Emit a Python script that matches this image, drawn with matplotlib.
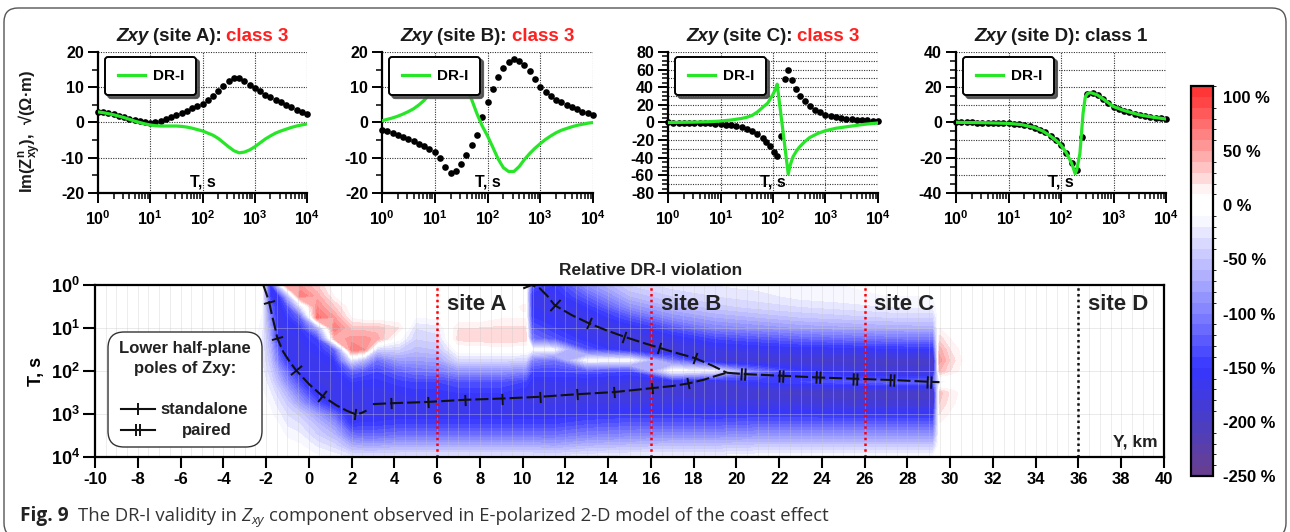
import numpy as np
import matplotlib
matplotlib.use("Agg")
import matplotlib.pyplot as plt
from matplotlib.colors import ListedColormap, BoundaryNorm, to_rgb
from matplotlib.patches import FancyBboxPatch
from matplotlib.path import Path
from matplotlib.lines import Line2D
from matplotlib.ticker import MultipleLocator, LogLocator, NullFormatter

plt.rcParams.update({
    "font.family": ["Liberation Sans", "DejaVu Sans"],
    "font.weight": "bold",
    "axes.unicode_minus": False,
    "mathtext.fontset": "custom",
    "mathtext.rm": "Liberation Sans:bold",
    "mathtext.bf": "Liberation Sans:bold",
    "mathtext.it": "Liberation Sans:bold:italic",
})

# ======================= DATA: top panels =======================
# log10(T) sampling of the black (Im Z) series, 0.1 step
logT_grid = np.round(np.arange(41) * 0.1, 1)

A_black = [3.1, 2.9, 2.6, 2.3, 1.9, 1.5, 1.1, 0.7, 0.3, 0.0, -0.1, 0.1, 0.5, 0.9, 1.5, 2.1, 2.7,
           3.3, 4.0, 4.6, 5.3, 6.3, 7.6, 8.9, 10.4, 11.8, 12.6, 12.5, 11.7, 10.7, 9.7, 8.8, 7.9,
           7.1, 6.4, 5.7, 5.0, 4.3, 3.6, 2.9, 2.3]
A_green = [3.0, 2.8, 2.5, 2.2, 1.8, 1.4, 0.9, 0.4, 0.0, -0.4, -0.7, -0.9, -1.0, -1.0, -1.0, -1.0,
           -1.1, -1.3, -1.6, -2.0, -2.4, -3.0, -3.6, -4.5, -5.7, -6.9, -8.0, -8.6, -8.4, -7.8,
           -6.9, -5.8, -4.7, -3.8, -3.0, -2.4, -1.9, -1.4, -1.0, -0.7, -0.4]

B_black = [-2.1, -2.5, -3.0, -3.5, -4.0, -4.6, -5.3, -6.0, -6.8, -7.6, -8.5, -10.0, -12.5, -14.3,
           -13.8, -11.8, -9.3, -6.4, -3.5, 1.5, 5.8, 9.6, 13.0, 15.6, 17.3, 17.9, 17.5, 16.4, 14.7,
           12.3, 10.0, 8.6, 7.4, 6.5, 5.7, 5.0, 4.3, 3.7, 3.1, 2.6, 2.1]
B_green = [0.5, 0.9, 1.3, 1.8, 2.4, 3.1, 3.9, 5.0, 6.3, 8.0, 10.0, 12.0, 13.5, 14.0, 13.5, 12.0,
           9.5, 6.5, 2.5, -1.0, -3.8, -7.0, -10.3, -12.8, -13.9, -13.9, -12.5, -10.5, -8.8, -7.3,
           -6.0, -4.8, -3.8, -2.9, -2.2, -1.7, -1.2, -0.8, -0.5, -0.2, 0.0]

C_black_logT = [0.0, 0.1, 0.2, 0.3, 0.4, 0.5, 0.6, 0.7, 0.8, 0.9, 1.0, 1.1, 1.2, 1.3, 1.4, 1.5,
                1.6, 1.7, 1.8, 1.87, 1.94, 2.01, 2.08, 2.15, 2.22, 2.29, 2.36, 2.43, 2.51, 2.6,
                2.7, 2.8, 2.9, 3.0, 3.1, 3.2, 3.3, 3.4, 3.5, 3.6, 3.7, 3.8, 3.9, 4.0]
C_black = [0.0, -0.1, -0.1, -0.2, -0.3, -0.4, -0.6, -0.8, -1.1, -1.4, -1.8, -2.3, -3.0, -4.0,
           -5.5, -7.5, -10.0, -13.5, -18.0, -22.0, -27.0, -33.0, -38.0, -15.0, 49.0, 60.0, 48.0,
           38.0, 30.0, 24.0, 18.5, 14.5, 11.5, 9.0, 7.2, 5.9, 4.9, 4.1, 3.5, 3.0, 2.7, 2.4, 2.2, 2.0]
C_green_logT = [0.0, 0.25, 0.5, 0.75, 1.0, 1.2, 1.4, 1.5, 1.6, 1.7, 1.8, 1.9, 2.0, 2.05, 2.08,
                2.15, 2.22, 2.29, 2.33, 2.38, 2.45, 2.51, 2.6, 2.7, 2.85, 3.0, 3.2, 3.5, 3.75, 4.0]
C_green = [0.0, 0.2, 0.4, 0.8, 1.6, 2.8, 4.6, 5.9, 8.0, 11.8, 17.0, 22.0, 32.0, 38.0, 43.5,
           9.5, -24.5, -58.5, -48.0, -39.0, -32.0, -27.5, -22.0, -17.0, -12.5, -9.3, -6.5, -4.0,
           -2.0, -0.5]

D_black = [0.1, 0.1, 0.0, 0.0, -0.1, -0.1, -0.2, -0.3, -0.3, -0.4, -0.5, -0.7, -1.0, -1.5, -2.1,
           -2.9, -4.0, -5.6, -7.7, -10.0, -12.8, -17.2, -22.9, -27.0, -8.0, 16.3, 16.8, 15.6,
           13.4, 11.0, 9.0, 7.8, 6.8, 5.8, 5.0, 4.3, 3.7, 3.2, 2.8, 2.4, 2.0]
D_green_logT = [0.0, 0.25, 0.5, 0.75, 1.0, 1.25, 1.5, 1.65, 1.8, 1.9, 2.0, 2.1, 2.2, 2.27, 2.3,
                2.36, 2.42, 2.46, 2.5, 2.56, 2.69, 2.81, 3.0, 3.2, 3.5, 3.75, 4.0]
D_green = [0.1, 0.0, -0.1, -0.3, -0.5, -1.2, -2.9, -4.8, -7.7, -10.0, -12.8, -17.2, -22.9, -29.0,
           -27.0, -17.6, 5.2, 14.0, 16.3, 17.0, 15.7, 13.2, 9.0, 6.8, 4.3, 3.0, 2.0]

site_labels = ["A", "B", "C", "D"]
site_classes = ["class 3", "class 3", "class 3", "class 1"]
panel_ylims = [20, 20, 80, 40]
panel_major = [10, 10, 20, 20]
panel_minor = [5, 5, 5, 5]
panel_grid = [10, 10, 10, 10]

# ======================= DATA: bottom map =======================
map_logT = [0.0, 0.25, 0.5, 0.75, 1.0, 1.25, 1.5, 1.75, 2.0, 2.25, 2.5, 2.75, 3.0, 3.25, 3.5, 3.75, 4.0]
map_Y = [-10, -3.2, -2.6, -2.2, -1.8, -1.4, -1.0, -0.4, 0.4, 1.2, 2.0, 2.6, 3.2, 4.2, 5.0, 6.0,
         7.0, 8.0, 9.0, 10.0, 10.15, 10.45, 11.5, 13.0, 15.0, 17.0, 19.0, 21.0, 23.0, 25.0, 27.0,
         28.5, 29.2, 29.5, 30.0, 30.8, 40.0]
# relative DR-I violation (%) : one profile (vs map_logT) per map_Y column
map_columns = [
    [0] * 17,
    [0] * 17,
    [0, 0, 0, 0, 0, 0, 0, -3, -6, -8, -8, -6, -4, -2, 0, 0, 0],
    [-5, -5, -8, -12, -18, -20, -20, -20, -15, -10, -8, -5, -3, 0, 0, 0, 0],
    [-150, -150, -120, -100, -80, -70, -60, -50, -40, -30, -20, -12, -8, -4, 0, 0, 0],
    [-30, -150, -165, -170, -170, -165, -130, -110, -80, -60, -40, -28, -18, -10, -5, -2, 0],
    [60, -60, -130, -150, -160, -170, -170, -150, -120, -95, -65, -45, -32, -22, -12, -5, 0],
    [50, 70, -30, -120, -150, -160, -165, -170, -165, -140, -110, -80, -45, -30, -18, -8, 0],
    [30, 45, 60, 75, -70, -140, -155, -165, -170, -170, -165, -130, -80, -55, -40, -22, -8],
    [0, 8, 30, 50, 70, 40, -120, -150, -160, -170, -170, -165, -120, -85, -60, -35, -12],
    [0, 0, 0, 8, 35, 55, 70, -30, -120, -150, -160, -170, -170, -150, -110, -65, -25],
    [0, 0, 0, 0, 35, 55, 60, -60, -130, -155, -165, -170, -165, -145, -115, -70, -25],
    [0, 0, 0, 0, 35, 45, -40, -110, -140, -155, -165, -170, -165, -145, -115, -70, -25],
    [0, 0, 0, 0, 20, -5, -40, -80, -120, -145, -160, -170, -160, -140, -110, -65, -25],
    [0, 0, 0, -10, -30, -40, -55, -80, -110, -140, -155, -165, -160, -140, -110, -65, -25],
    [0, 0, 0, -8, -25, -35, -50, -75, -105, -140, -155, -165, -160, -140, -110, -65, -25],
    [0, 0, 0, 0, 20, 25, -2, -35, -85, -130, -150, -165, -160, -140, -110, -65, -25],
    [0, 0, 0, 0, 20, 28, 0, -35, -85, -130, -150, -165, -160, -140, -110, -65, -25],
    [0, 0, 0, 8, 22, 30, 2, -35, -85, -130, -150, -165, -160, -140, -110, -65, -25],
    [0, 0, 12, 8, 22, 28, 0, -40, -95, -140, -160, -170, -160, -140, -110, -65, -25],
    [0, 0, 12, 8, 22, 28, 0, -40, -95, -140, -160, -170, -160, -140, -110, -65, -25],
    [-130, -160, -160, -150, -130, -110, -10, -100, -140, -160, -170, -170, -160, -140, -110, -65, -25],
    [-150, -165, -170, -160, -150, -130, -15, -110, -140, -160, -175, -170, -160, -140, -110, -70, -25],
    [-90, -120, -150, -170, -175, -160, -130, -10, -130, -165, -180, -170, -155, -130, -100, -60, -20],
    [-40, -60, -90, -130, -165, -180, -170, -10, -140, -170, -185, -170, -150, -125, -95, -55, -15],
    [-25, -40, -60, -90, -130, -165, -185, -110, -5, -170, -185, -170, -150, -125, -90, -50, -15],
    [-20, -30, -45, -70, -100, -140, -170, -185, -20, -180, -190, -175, -155, -125, -90, -50, -15],
    [-15, -25, -35, -60, -90, -130, -165, -185, -110, -150, -190, -175, -150, -120, -85, -45, -10],
    [-10, -15, -30, -50, -80, -120, -160, -190, -150, -140, -195, -180, -150, -120, -85, -45, -10],
    [-10, -12, -25, -45, -75, -115, -160, -195, -170, -130, -200, -185, -155, -120, -85, -45, -10],
    [-8, -10, -20, -40, -70, -110, -155, -195, -185, -120, -200, -185, -155, -120, -85, -45, -8],
    [-5, -10, -18, -38, -68, -108, -155, -195, -185, -120, -200, -185, -155, -120, -85, -45, -8],
    [-5, -10, -18, -38, -68, -108, -155, -195, -185, -120, -200, -185, -155, -120, -85, -45, -8],
    [0, 0, 0, 0, 10, 25, 45, 55, 40, -20, 35, 30, 20, 8, 0, 0, 0],
    [0, 0, 0, 0, 0, 10, 20, 28, 20, -10, 18, 14, 8, 0, 0, 0, 0],
    [0] * 17,
    [0] * 17,
]

# pole trajectories (Y km, log10 T)
stand1_Y = [-2.13, -2.0, -1.86, -1.7, -1.55, -1.47, -1.2, -0.9, -0.6, 0.0, 0.63, 1.3, 1.8, 2.16, 2.45, 2.7]
stand1_T = [0.0, 0.18, 0.39, 0.75, 1.05, 1.24, 1.55, 1.78, 1.98, 2.3, 2.58, 2.8, 2.93, 3.0, 2.98, 2.92]
stand1_ticks = [-1.86, -1.47, -0.6, 0.63, 2.16]
stand2_Y = [3.0, 3.84, 5.56, 7.3, 9.05, 10.8, 12.56, 14.29, 16.04, 17.0, 17.75, 18.5, 19.0, 19.55]
stand2_T = [2.77, 2.75, 2.72, 2.67, 2.64, 2.6, 2.54, 2.49, 2.4, 2.35, 2.29, 2.2, 2.12, 2.04]
stand2_ticks = [3.84, 5.56, 7.3, 9.05, 10.8, 12.56, 14.29, 16.04, 17.75]
stand3_Y = [10.03, 10.42, 10.81, 11.15, 11.5, 12.3, 13.1, 13.9, 14.74, 15.6, 16.4, 17.2, 18.06, 18.9, 19.55]
stand3_T = [0.08, 0.0, 0.08, 0.25, 0.47, 0.7, 0.89, 1.05, 1.2, 1.34, 1.46, 1.58, 1.7, 1.88, 2.04]
stand3_ticks = [11.5, 13.1, 14.74, 16.4, 18.06]
paired_Y = [19.55, 20.3, 22.09, 23.8, 25.55, 27.3, 29.03, 29.5]
paired_T = [2.04, 2.07, 2.11, 2.15, 2.18, 2.21, 2.25, 2.26]
paired_ticks = [20.3, 22.09, 23.8, 25.55, 27.3, 29.03]

sites_Y = [6, 16, 26, 36]
sites_name = ["site A", "site B", "site C", "site D"]

cbar_ticks = [100, 50, 0, -50, -100, -150, -200, -250]
cbar_stops = [-250, -200, -150, -100, -50, -20, -10, 10, 20, 50, 100, 110]
cbar_stop_colors = ["#6a3f8c", "#4a3ec4", "#3535ff", "#8080ff", "#c4c4ff", "#eeeeff", "#ffffff",
                    "#ffffff", "#ffe6e6", "#ffa0a0", "#ff3b3b", "#ff3030"]

# ======================= FIGURE =======================
W, H = 1290, 532
fig = plt.figure(figsize=(W / 100, H / 100), dpi=100)


def fx(x):
    return x / W


def fy(y):
    return 1 - y / H


renderer = fig.canvas.get_renderer()


def rich_text(xc, ybase, parts, ha="center"):
    """parts: list of (text, props, gap_px_after, dy_px)"""
    arts, widths = [], []
    for s, props, gap, dy in parts:
        t = fig.text(0, fy(ybase + dy), s, va="baseline", ha="left", **props)
        w = t.get_window_extent(renderer).width
        arts.append(t)
        widths.append(w + gap)
    total = sum(widths)
    x0 = xc - total / 2 if ha == "center" else xc
    for t, w in zip(arts, widths):
        t.set_x(fx(x0))
        x0 += w


# outer rounded frame
fig.add_artist(FancyBboxPatch((0.04, -0.05), 12.82, 5.29,
                              boxstyle="round,pad=0,rounding_size=0.14",
                              transform=fig.dpi_scale_trans, fill=False,
                              ec="#555555", lw=1.0, zorder=0))

GREEN = "#27e627"
panel_left = [98, 382, 668, 956]
panel_w = [209, 211, 210, 210]
black_sets = [(logT_grid, A_black), (logT_grid, B_black), (C_black_logT, C_black), (logT_grid, D_black)]
green_sets = [(logT_grid, A_green), (logT_grid, B_green), (C_green_logT, C_green), (D_green_logT, D_green)]

for i in range(4):
    ax = fig.add_axes([fx(panel_left[i]), fy(193), panel_w[i] / W, 141 / H])
    lim = panel_ylims[i]
    ax.set_xscale("log")
    ax.set_xlim(1, 1e4)
    ax.set_ylim(-lim, lim)
    for v in np.arange(-lim + panel_grid[i], lim + 0.1, panel_grid[i]):
        ax.axhline(v, color="#333333", lw=0.8, ls=(0, (1, 1.2)), zorder=0.5)
    for k in range(1, 5):
        ax.axvline(10.0 ** k, color="#333333", lw=0.8, ls=(0, (1, 1.2)), zorder=0.5)
    bl, bv = black_sets[i]
    ax.plot(10.0 ** np.asarray(bl), bv, "o", color="k", ms=4.8, mew=0, zorder=2, clip_on=False)
    gl, gv = green_sets[i]
    ax.plot(10.0 ** np.asarray(gl), gv, "-", color=GREEN, lw=2.3, zorder=3, solid_capstyle="round")
    for s in ["top", "right"]:
        ax.spines[s].set_visible(False)
    for s in ["left", "bottom"]:
        ax.spines[s].set_linewidth(1.6)
    ax.yaxis.set_major_locator(MultipleLocator(panel_major[i]))
    ax.yaxis.set_minor_locator(MultipleLocator(panel_minor[i]))
    ax.xaxis.set_minor_locator(LogLocator(base=10, subs=np.arange(2, 10), numticks=10))
    ax.xaxis.set_minor_formatter(NullFormatter())
    ax.set_xticks([1, 10, 100, 1000, 10000])
    ax.set_xticklabels([r"$10^{0}$", r"$10^{1}$", r"$10^{2}$", r"$10^{3}$", r"$10^{4}$"])
    ax.tick_params(axis="both", which="major", direction="out", length=7, width=1.4,
                   labelsize=11.5, pad=3)
    ax.tick_params(axis="both", which="minor", direction="out", length=4, width=1.1)
    ax.tick_params(axis="x", which="major", pad=5)
    ax.text(0.5, 0.075, "T, s", transform=ax.transAxes, ha="center", va="center",
            fontsize=11.5, weight="bold", zorder=4)
    leg = ax.legend([Line2D([], [], color=GREEN, lw=2.3)], ["DR-I"], loc="upper left",
                    bbox_to_anchor=(0.035, 0.965), borderaxespad=0, fancybox=True,
                    shadow={"color": "0.3", "alpha": 0.9}, framealpha=1, edgecolor="k",
                    prop=dict(weight="bold", size=11), handlelength=1.8, borderpad=0.8,
                    handletextpad=0.5)
    leg.get_frame().set_linewidth(1.4)
    leg.set_zorder(5)
    xc = panel_left[i] + panel_w[i] / 2
    red = "#ff2020" if site_classes[i] != "class 1" else "#1a1a1a"
    rich_text(xc, 41, [
        ("Zxy", dict(fontsize=13.5, weight="bold", style="italic", color="#1a1a1a"), 4, 0),
        ("(site %s):" % site_labels[i], dict(fontsize=13.5, weight="bold", color="#1a1a1a"), 5, 0),
        (site_classes[i], dict(fontsize=13.5, weight="bold", color=red), 0, 0),
    ])

fig.text(fx(30), fy(131), "Im(Z$^{\\mathrm{n}}_{\\mathrm{xy}}$),  √(Ω·m)", rotation=90,
         ha="center", va="center", fontsize=12, weight="bold", color="#1a1a1a")

# ---------------- bottom map ----------------
axb = fig.add_axes([fx(95), fy(457), 1069 / W, 172 / H])
levels = np.arange(-250, 111, 10)
mids = levels[:-1] + 5
stop_rgb = np.array([to_rgb(c) for c in cbar_stop_colors])
band_cols = np.column_stack([np.interp(mids, cbar_stops, stop_rgb[:, k]) for k in range(3)])
cmap = ListedColormap(band_cols)
norm = BoundaryNorm(levels, cmap.N)
Z = np.array(map_columns, dtype=float).T
cs = axb.contourf(map_Y, map_logT, Z, levels=levels, cmap=cmap, norm=norm, zorder=1)
axb.set_xlim(-10, 40)
axb.set_ylim(4, 0)
axb.vlines(np.arange(-9.5, 40, 0.5), 0, 4, color="#c8c8c8", lw=0.5, alpha=0.45, zorder=1.5)
axb.hlines([1, 2, 3], -10, 40, color="#c8c8c8", lw=0.6, alpha=0.45, zorder=1.5)

for sY, nm in zip(sites_Y, sites_name):
    col = "red" if sY < 30 else "#111111"
    axb.axvline(sY, color=col, lw=1.8, ls=(0, (1, 1.3)), zorder=3)
    axb.text(sY + 0.45, 0.45, nm, fontsize=16, weight="bold", color="#222222",
             ha="left", va="center", zorder=4)
axb.text(39.7, 3.65, "Y, km", fontsize=12.5, weight="bold", ha="right", va="center", color="#222222")

dash = (0, (6.3, 1.9))
for Ys, Ts in [(stand1_Y, stand1_T), (stand2_Y, stand2_T), (stand3_Y, stand3_T), (paired_Y, paired_T)]:
    axb.plot(Ys, Ts, color="#111111", lw=1.5, ls=dash, zorder=5)


def tick_path(angle, double=False):
    a = np.deg2rad(angle)
    d = np.array([np.cos(a), np.sin(a)])
    n = np.array([-np.sin(a), np.cos(a)])
    offs = [-0.3, 0.3] if double else [0.0]
    verts, codes = [], []
    for o in offs:
        verts += [tuple(o * d - n), tuple(o * d + n)]
        codes += [Path.MOVETO, Path.LINETO]
    return Path(verts, codes)


def add_ticks(Ys, Ts, ticks, double=False):
    Ys = np.asarray(Ys)
    Ts = np.asarray(Ts)
    for ty in ticks:
        tt = np.interp(ty, Ys, Ts)
        p1 = axb.transData.transform((ty - 0.08, np.interp(ty - 0.08, Ys, Ts)))
        p2 = axb.transData.transform((ty + 0.08, np.interp(ty + 0.08, Ys, Ts)))
        ang = np.degrees(np.arctan2(p2[1] - p1[1], p2[0] - p1[0]))
        axb.plot([ty], [tt], ls="none", marker=tick_path(ang, double), ms=9 if double else 8,
                 mew=1.4, color="#111111", zorder=6)


add_ticks(stand1_Y, stand1_T, stand1_ticks)
add_ticks(stand2_Y, stand2_T, stand2_ticks)
add_ticks(stand3_Y, stand3_T, stand3_ticks)
add_ticks(paired_Y, paired_T, paired_ticks, double=True)

for s in axb.spines.values():
    s.set_linewidth(1.6)
    s.set_zorder(7)
axb.set_xticks(np.arange(-10, 41, 2))
axb.set_xticklabels([str(v) for v in range(-10, 41, 2)])
axb.set_yticks([0, 1, 2, 3, 4])
axb.set_yticklabels([r"$10^{%d}$" % k for k in range(5)])
axb.tick_params(axis="x", direction="out", length=8, width=1.5, labelsize=12, pad=3)
axb.tick_params(axis="y", direction="out", length=9, width=1.5, labelsize=13, pad=2)
axb.set_ylabel("T, s", fontsize=13, weight="bold", labelpad=4)
fig.text(fx(651), fy(270), "Relative DR-I violation", ha="center", va="center",
         fontsize=12.5, weight="bold", color="#222222")

# legend box of poles
fig.add_artist(FancyBboxPatch((1.08, 0.85), 1.54, 1.15, boxstyle="round,pad=0,rounding_size=0.16",
                              transform=fig.dpi_scale_trans, fc="white", ec="#333333",
                              lw=1.0, zorder=8))
fig.text(fx(185), fy(349), "Lower half-plane", ha="center", va="center", fontsize=12,
         weight="bold", color="#222222", zorder=9)
fig.text(fx(185), fy(369), "poles of Zxy:", ha="center", va="center", fontsize=12,
         weight="bold", color="#222222", zorder=9)
for yy, lab, dbl, xt in [(409, "standalone", False, 160), (430, "paired", True, 182)]:
    fig.add_artist(Line2D([fx(121), fx(155)], [fy(yy), fy(yy)], color="#111111", lw=1.5,
                          transform=fig.transFigure, zorder=9))
    fig.add_artist(Line2D([fx(138)], [fy(yy)], ls="none", marker=tick_path(0, dbl),
                          ms=9 if dbl else 8, mew=1.4, color="#111111",
                          transform=fig.transFigure, zorder=9))
    fig.text(fx(xt), fy(yy), lab, ha="left", va="center", fontsize=12, weight="bold",
             color="#222222", zorder=9)

# colorbar
cax = fig.add_axes([fx(1191), fy(476), 22 / W, (476 - 86) / H])
cb = fig.colorbar(cs, cax=cax, ticks=cbar_ticks)
cb.ax.set_yticklabels(["%d %%" % v for v in cbar_ticks])
cb.ax.tick_params(length=0, labelsize=12, pad=7)
cb.outline.set_linewidth(1.6)

# caption
cap_fs = 13.3
rich_text(20, 521, [
    ("Fig. 9", dict(fontsize=cap_fs + 0.5, weight="bold", family="Open Sans", color="#222222"), 9, 0),
    ("The DR-I validity in", dict(fontsize=cap_fs, weight="normal", family="Open Sans", color="#333333"), 5, 0),
    ("Z", dict(fontsize=cap_fs, weight="normal", style="italic", family="Open Sans", color="#333333"), 0, 0),
    ("xy", dict(fontsize=cap_fs * 0.72, weight="normal", style="italic", family="Open Sans", color="#333333"), 5, 3),
    ("component observed in E-polarized 2-D model of the coast effect",
     dict(fontsize=cap_fs, weight="normal", family="Open Sans", color="#333333"), 0, 0),
], ha="left")

fig.savefig("out.png", dpi=100)
